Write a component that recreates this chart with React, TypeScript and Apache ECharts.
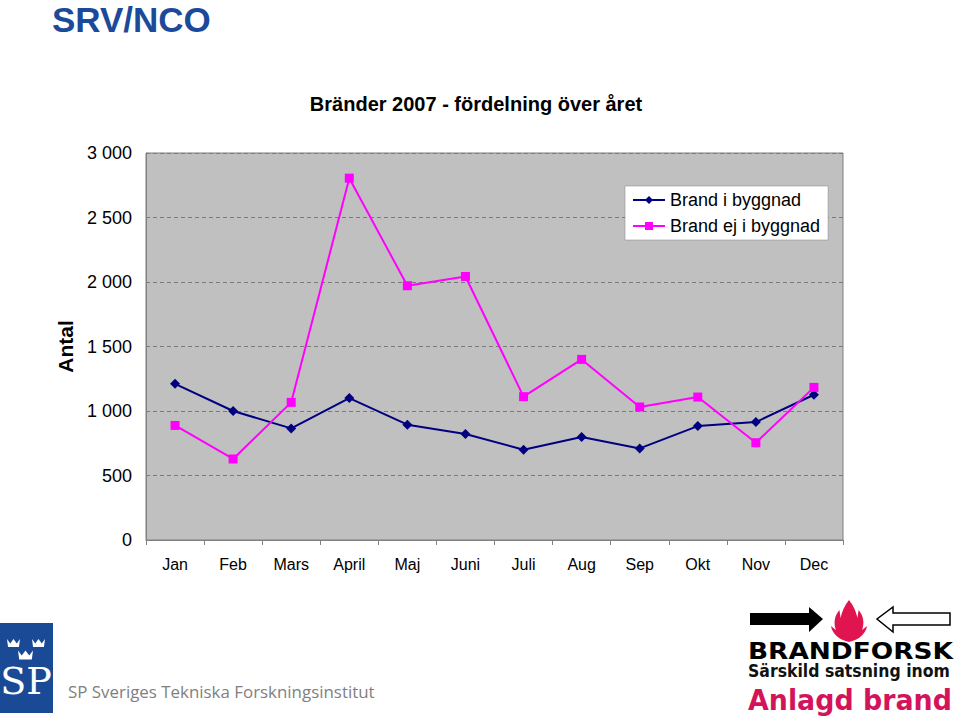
import React, { useEffect, useRef } from "react";
import * as echarts from "echarts";

const months = ["Jan", "Feb", "Mars", "April", "Maj", "Juni", "Juli", "Aug", "Sep", "Okt", "Nov", "Dec"];
const brandIByggnad = [1211, 1000, 865, 1100, 894, 822, 700, 798, 710, 883, 914, 1126];
const brandEjIByggnad = [888, 628, 1067, 2805, 1971, 2043, 1111, 1400, 1031, 1108, 754, 1183];
const seriesNames = ["Brand i byggnad", "Brand ej i byggnad"];

const crown = (cx: number, cy: number, w: number) => {
  const h = w * 0.6;
  const l = cx - w / 2;
  const r = cx + w / 2;
  const t = cy - h / 2;
  const b = cy + h / 2;
  return {
    type: "polygon",
    shape: {
      points: [
        [l, t],
        [l + w * 0.25, t + h * 0.55],
        [cx, t],
        [r - w * 0.25, t + h * 0.55],
        [r, t],
        [r - w * 0.08, b],
        [l + w * 0.08, b],
      ],
    },
    style: { fill: "#ffffff" },
  };
};

const flamePath =
  "M0,30 C-8,28 -14,22 -15,14 L-11,18 C-13,10 -12,4 -8,-2 L-7,6 C-6,0 -4,-6 0,-12 C4,-6 6,0 7,6 L8,-2 C12,4 13,10 11,18 L15,14 C14,22 8,28 0,30 Z M0,22 C-4,20 -5,15 -3,11 C-2,14 -1,15 0,14 C1,15 2,14 3,11 C5,15 4,20 0,22 Z";

let registered = false;

const measure = (text: string, font: string) => {
  const c = document.createElement("canvas");
  const ctx = c.getContext("2d")!;
  ctx.font = font;
  return ctx.measureText(text).width || 1;
};

const fitText = (
  text: string,
  x: number,
  y: number,
  width: number,
  fontSize: number,
  family: string,
  weight: string,
  fill: string
) => {
  const w = measure(text, `${weight} ${fontSize}px ${family}`);
  return {
    type: "text",
    x,
    y,
    scaleX: width / w,
    scaleY: 1,
    style: {
      text,
      fontSize,
      fontWeight: weight,
      fontFamily: family,
      fill,
      verticalAlign: "middle",
    },
  };
};

export default function App() {
  const ref = useRef<HTMLDivElement>(null);
  useEffect(() => {
    if (!registered) {
      echarts.graphic.registerShape("flame", echarts.graphic.extendPath(flamePath, {}));
      registered = true;
    }
    const chart = echarts.init(ref.current!, null, { renderer: "svg" });
    const font = "Liberation Sans, Arial, sans-serif";
    chart.setOption({
      animation: false,
      backgroundColor: "#ffffff",
      textStyle: { fontFamily: font },
      title: {
        text: "Bränder 2007 - fördelning över året",
        left: 471,
        textAlign: "center",
        top: 89,
        textStyle: { fontSize: 20, fontWeight: "bold", color: "#000", fontFamily: font },
      },
      legend: {
        orient: "vertical",
        left: 625,
        top: 186,
        padding: [5, 8, 5, 7],
        itemGap: 8,
        itemWidth: 32,
        itemHeight: 10,
        backgroundColor: "#ffffff",
        borderColor: "#808080",
        borderWidth: 0.5,
        textStyle: { fontSize: 18, color: "#000", fontFamily: font },
        data: seriesNames,
      },
      grid: {
        left: 146,
        top: 153,
        width: 697,
        height: 387,
        show: true,
        backgroundColor: "#c0c0c0",
        borderColor: "#808080",
        borderWidth: 1,
      },
      xAxis: {
        type: "category",
        data: months,
        boundaryGap: true,
        axisLine: { show: true, lineStyle: { color: "#808080", width: 1 } },
        axisTick: { show: true, alignWithLabel: false, length: 5, lineStyle: { color: "#808080" } },
        axisLabel: { fontSize: 16, color: "#000", margin: 16, fontFamily: font },
      },
      yAxis: {
        type: "value",
        min: 0,
        max: 3000,
        interval: 500,
        name: "Antal",
        nameLocation: "middle",
        nameGap: 66,
        nameTextStyle: { fontSize: 21, fontWeight: "bold", color: "#000", fontFamily: font },
        axisLine: { show: true, lineStyle: { color: "#808080", width: 1 } },
        axisTick: { show: false },
        axisLabel: {
          fontSize: 18,
          color: "#000",
          margin: 14,
          fontFamily: font,
          formatter: (v: number) => String(v).replace(/\B(?=(\d{3})+(?!\d))/g, " "),
        },
        splitLine: { show: true, lineStyle: { color: "#7a7a7a", type: [4, 3], width: 1 } },
      },
      series: [
        {
          name: seriesNames[0],
          type: "line",
          data: brandIByggnad,
          symbol: "diamond",
          symbolSize: 10,
          lineStyle: { color: "#000080", width: 2 },
          itemStyle: { color: "#000080" },
        },
        {
          name: seriesNames[1],
          type: "line",
          data: brandEjIByggnad,
          symbol: "rect",
          symbolSize: 9,
          lineStyle: { color: "#ff00ff", width: 2 },
          itemStyle: { color: "#ff00ff" },
        },
      ],
      graphic: [
        {
          type: "text",
          left: 52,
          top: 2,
          style: { text: "SRV/NCO", fontSize: 35, fontWeight: "bold", fill: "#1c4a9a", fontFamily: font },
        },
        // SP logo
        { type: "rect", shape: { x: 0, y: 623, width: 53, height: 90 }, style: { fill: "#1a4a96" } },
        crown(13.5, 643, 13),
        crown(38.5, 643, 13),
        crown(25.5, 655, 15),
        {
          type: "text",
          x: 26,
          y: 681,
          style: {
            text: "SP",
            fontSize: 38,
            fontFamily: "DejaVu Serif, Liberation Serif, serif",
            fill: "#ffffff",
            align: "center",
            verticalAlign: "middle",
          },
        },
        fitText("SP Sveriges Tekniska Forskningsinstitut", 68, 691, 307, 17, "Open Sans", "normal", "#7f7f7f"),
        // Brandforsk logo
        {
          type: "polygon",
          shape: {
            points: [
              [750, 613],
              [809, 613],
              [809, 607],
              [823, 619],
              [809, 632],
              [809, 625],
              [750, 625],
            ],
          },
          style: { fill: "#000" },
        },
        {
          type: "polygon",
          shape: {
            points: [
              [950, 613],
              [893, 613],
              [893, 607],
              [877, 619],
              [893, 632],
              [893, 625],
              [950, 625],
            ],
          },
          style: { fill: "#fff", stroke: "#000", lineWidth: 1.5 },
        },
        {
          type: "flame",
          x: 849,
          y: 612,
          scaleX: 1.2,
          scaleY: 1.0,
          style: { fill: "#e0144e" },
        },
        fitText("BRANDFORSK", 748, 651, 205, 23, "DejaVu Sans", "bold", "#000"),
        fitText("Särskild satsning inom", 748, 671, 202, 17, "DejaVu Sans", "bold", "#111"),
        fitText("Anlagd brand", 748, 700, 204, 28, "DejaVu Sans", "bold", "#d4145a"),
      ],
    });
    return () => chart.dispose();
  }, []);
  return (
    <div
      ref={ref}
      style={{ position: "absolute", left: 0, top: 0, width: 960, height: 725 }}
    />
  );
}
